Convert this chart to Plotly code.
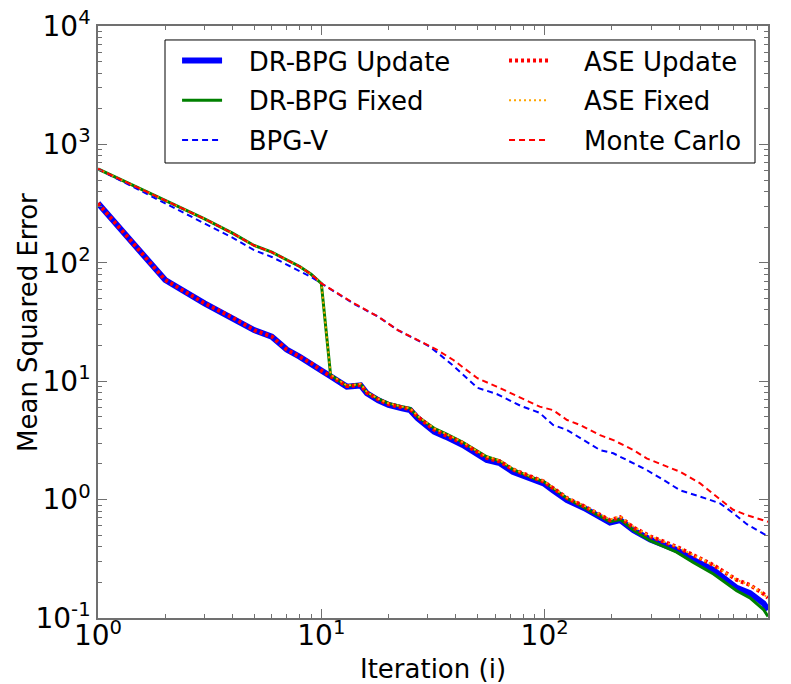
import plotly.graph_objects as go

# ---- data (log-log) ----
x_update = [1, 2, 3, 4, 5, 6, 7, 8, 9, 10, 11, 13, 15, 16, 18, 20, 23, 25, 27, 32, 36, 43, 55, 63, 72,
            89, 99, 109, 126, 150, 196, 218, 250, 297, 390, 463, 570, 724, 830, 955, 1000]
y_drbpg_update = [318, 71.6, 45.5, 34.5, 27.0, 23.8, 18.5, 16.1, 14.2, 12.3, 11.0, 9.0, 9.2, 7.9, 6.9,
                  6.3, 5.9, 5.7, 4.87, 3.75, 3.4, 2.89, 2.16, 2.03, 1.72, 1.47, 1.37, 1.2, 0.99,
                  0.85, 0.64, 0.67, 0.55, 0.46, 0.375, 0.31, 0.254, 0.18, 0.162, 0.133, 0.117]
y_ase_update = [318, 71.6, 45.5, 34.5, 27.0, 23.8, 18.5, 16.1, 14.2, 12.3, 11.1, 9.1, 9.3, 8.0, 7.0,
                6.4, 6.0, 5.8, 5.0, 3.9, 3.5, 3.0, 2.25, 2.1, 1.8, 1.52, 1.42, 1.25, 1.03,
                0.88, 0.67, 0.71, 0.58, 0.49, 0.40, 0.34, 0.28, 0.21, 0.19, 0.16, 0.148]

x_fixed = [1, 2, 3, 4, 5, 6, 7, 8, 9, 10, 11, 13, 15, 16, 18, 20, 23, 25, 27, 32, 36, 43, 55, 63, 72,
           89, 99, 109, 126, 150, 196, 218, 250, 297, 390, 463, 570, 724, 830, 955, 1000]
y_drbpg_fixed = [620, 337, 235, 178, 140, 123, 106, 93, 80, 67, 11.3, 9.1, 9.4, 8.0, 7.1, 6.5, 6.1,
                 5.9, 5.0, 4.0, 3.6, 3.05, 2.3, 2.12, 1.8, 1.52, 1.42, 1.25, 1.02, 0.86, 0.65,
                 0.68, 0.55, 0.45, 0.36, 0.295, 0.235, 0.17, 0.148, 0.118, 0.103]
y_ase_fixed = [620, 337, 235, 178, 140, 123, 106, 93, 80, 67, 11.4, 9.2, 9.5, 8.1, 7.1, 6.5, 6.1,
               5.9, 5.1, 4.0, 3.6, 3.05, 2.3, 2.15, 1.82, 1.54, 1.44, 1.27, 1.04, 0.89, 0.68,
               0.72, 0.59, 0.49, 0.40, 0.34, 0.28, 0.21, 0.19, 0.16, 0.145]

x_mc = [1, 2, 3, 4, 5, 6, 7, 8, 9, 10, 14, 18, 22, 30, 33, 39, 50, 61, 78, 95, 109, 126, 144, 177,
        203, 250, 286, 340, 403, 497, 610, 698, 804, 1000]
y_bpgv = [620, 315, 215, 163, 128, 112, 97, 86, 76, 67, 45, 35, 27, 20.0, 17.5, 13.5, 8.8, 7.8,
          6.2, 5.4, 4.27, 3.87, 3.3, 2.62, 2.46, 2.03, 1.78, 1.47, 1.2, 1.06, 0.93, 0.77, 0.62, 0.49]
y_monte_carlo = [620, 337, 235, 178, 140, 123, 106, 93, 80, 67, 45.5, 35, 27, 20.2, 18.4, 15.1,
                 10.6, 9.0, 7.2, 6.1, 5.7, 4.7, 4.27, 3.5, 3.18, 2.62, 2.23, 1.96, 1.72, 1.37,
                 1.0, 0.82, 0.74, 0.65]

x_tickvals = [1, 10, 100, 1000]
x_ticktext = ["10<sup>0</sup>", "10<sup>1</sup>", "10<sup>2</sup>", "10<sup>3</sup>"]
y_tickvals = [0.1, 1, 10, 100, 1000, 10000]
y_ticktext = ["10<sup>-1</sup>", "10<sup>0</sup>", "10<sup>1</sup>", "10<sup>2</sup>",
              "10<sup>3</sup>", "10<sup>4</sup>"]

PAD1 = "\u00a0" * 2 + "\u2009"
PAD2 = "\u00a0" * 3 + "\u2009"
fig = go.Figure()
fig.add_trace(go.Scatter(x=x_update, y=y_drbpg_update, mode="lines", name=PAD1 + "DR-BPG Update",
                         line=dict(color="#0000ff", width=6), legend="legend", legendgroup="a"))
fig.add_trace(go.Scatter(x=x_fixed, y=y_drbpg_fixed, mode="lines", name=PAD1 + "DR-BPG Fixed",
                         line=dict(color="#008000", width=3), legend="legend", legendgroup="b"))
fig.add_trace(go.Scatter(x=x_mc, y=y_bpgv, mode="lines", name=PAD1 + "BPG-V",
                         line=dict(color="#0000ff", width=2, dash="6px,4px"), legend="legend",
                         legendgroup="c"))
fig.add_trace(go.Scatter(x=x_update, y=y_ase_update, mode="lines", name=PAD2 + "ASE Update",
                         line=dict(color="#ff0000", width=4, dash="3px,3px"), legend="legend2",
                         legendgroup="d"))
fig.add_trace(go.Scatter(x=x_fixed, y=y_ase_fixed, mode="lines", name=PAD2 + "ASE Fixed",
                         line=dict(color="#ffa500", width=2, dash="2px,3px"), legend="legend2",
                         legendgroup="e"))
fig.add_trace(go.Scatter(x=x_mc, y=y_monte_carlo, mode="lines", name=PAD2 + "Monte Carlo",
                         line=dict(color="#ff0000", width=2, dash="6px,4px"), legend="legend2",
                         legendgroup="f"))

axis_common = dict(
    type="log", automargin=False, showgrid=False, zeroline=False, showline=True,
    linecolor="#707070", linewidth=1.5,
    mirror="allticks", ticks="inside", ticklen=9, tickwidth=1, tickcolor="#707070",
    tickfont=dict(size=28, color="black"),
    minor=dict(ticks="inside", ticklen=4, tickwidth=1, tickcolor="#707070", dtick="D1",
               showgrid=False),
)

legend_common = dict(
    orientation="v", xanchor="left", yanchor="top", y=0.9814,
    bgcolor="rgba(0,0,0,0)", borderwidth=0, itemwidth=40, tracegroupgap=3,
    font=dict(size=26, family="DejaVu Sans", color="black"), traceorder="grouped",
)

fig.update_layout(
    width=791, height=684,
    margin=dict(l=98, r=23, t=26, b=66, autoexpand=False),
    paper_bgcolor="white", plot_bgcolor="white",
    font=dict(family="DejaVu Sans", color="black"),
    showlegend=True,
    legend=dict(legend_common, x=0.118),
    legend2=dict(legend_common, x=0.606),
    shapes=[dict(type="rect", xref="paper", yref="paper", x0=0.1, x1=0.9806, y0=0.7686,
                 y1=0.9764, line=dict(color="black", width=1), fillcolor="white", layer="above")],
    annotations=[dict(text="Mean Squared Error", xref="paper", yref="paper", x=-0.1045, y=0.5,
                      xanchor="center", yanchor="middle", textangle=-90, showarrow=False,
                      font=dict(size=26, family="DejaVu Sans", color="black"))],
)
fig.update_xaxes(axis_common, range=[0, 3], tickmode="array", tickvals=x_tickvals,
                 ticktext=x_ticktext, ticklabelstandoff=-8,
                 title=dict(text="Iteration (i)", font=dict(size=26), standoff=10))
fig.update_yaxes(axis_common, range=[-1, 4], tickmode="array", tickvals=y_tickvals,
                 ticktext=y_ticktext, ticklabelstandoff=0)

fig.write_html("out.html", post_script="document.body.style.margin='0px';",
               config={"displayModeBar": False})
